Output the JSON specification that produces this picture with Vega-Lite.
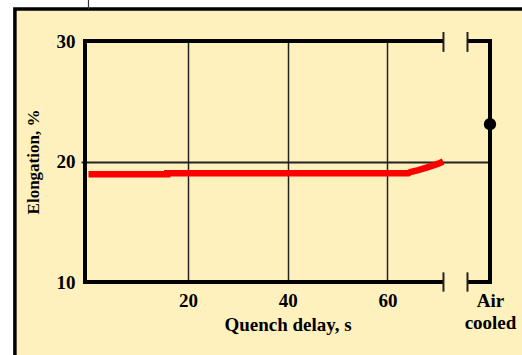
{
  "$schema": "https://vega.github.io/schema/vega-lite/v6.json",
  "width": 405,
  "height": 241,
  "autosize": "none",
  "padding": {"left": 85, "top": 41, "right": 32, "bottom": 73},
  "background": "#FFF1BE",
  "config": {"view": {"stroke": null}, "font": "Liberation Serif"},
  "datasets": {
    "quench": [
      {"delay": 0, "elong": 18.95},
      {"delay": 15.8, "elong": 18.95},
      {"delay": 15.8, "elong": 19.03},
      {"delay": 64.2, "elong": 19.03},
      {"delay": 64.6, "elong": 19.12},
      {"delay": 66.2, "elong": 19.28},
      {"delay": 68.0, "elong": 19.52},
      {"delay": 70.1, "elong": 19.8},
      {"delay": 71.2, "elong": 20.0}
    ],
    "air": [
      {"delay": 80.6, "elong": 23.1, "condition": "Air cooled"}
    ],
    "one": [{}]
  },
  "layer": [
    {
      "data": {"name": "quench"},
      "mark": {"type": "line", "color": "#FF0000", "strokeWidth": 6.5, "strokeCap": "butt"},
      "encoding": {
        "x": {
          "field": "delay", "type": "quantitative",
          "scale": {"domain": [-0.7, 80.6], "nice": false, "zero": false},
          "axis": {
            "values": [20, 40, 60, 80.6],
            "labelExpr": "datum.value > 70 ? ['Air','cooled'] : datum.label",
            "title": "Quench delay, s",
            "grid": true, "gridColor": "#222", "gridWidth": 1.5,
            "gridOpacity": {"condition": {"test": "datum.value > 70", "value": 0}, "value": 1},
            "ticks": false, "domain": false,
            "labelFont": "Liberation Serif", "labelFontWeight": "bold", "labelFontSize": 19,
            "labelColor": "black", "labelPadding": 9, "labelLineHeight": 22,
            "labelFlush": false, "labelOverlap": false,
            "titleFont": "Liberation Serif", "titleFontWeight": "bold", "titleFontSize": 19,
            "titleColor": "black", "titleY": 33, "titleBaseline": "top"
          }
        },
        "y": {
          "field": "elong", "type": "quantitative",
          "scale": {"domain": [10, 30], "nice": false, "zero": false},
          "axis": {
            "values": [10, 20, 30],
            "title": "Elongation, %",
            "grid": true, "gridColor": "#222", "gridWidth": 1.8,
            "gridOpacity": {"condition": {"test": "datum.value == 20", "value": 1}, "value": 0},
            "ticks": true, "tickSize": 4, "tickColor": "#222", "tickWidth": 1.8,
            "tickOpacity": {"condition": {"test": "datum.value == 20", "value": 1}, "value": 0},
            "domain": false,
            "labelFont": "Liberation Serif", "labelFontWeight": "bold", "labelFontSize": 19,
            "labelColor": "black", "labelPadding": 6,
            "titleFont": "Liberation Serif", "titleFontWeight": "bold", "titleFontSize": 17,
            "titleColor": "black", "titlePadding": 14
          }
        }
      }
    },
    {
      "data": {"name": "air"},
      "mark": {"type": "point", "filled": true, "color": "black", "size": 150, "opacity": 1},
      "encoding": {
        "x": {"field": "delay", "type": "quantitative"},
        "y": {"field": "elong", "type": "quantitative"}
      }
    },
    {
      "data": {"name": "one"},
      "mark": {"type": "rect", "color": "white"},
      "encoding": {
        "x": {"datum": -40, "type": "quantitative"},
        "x2": {"datum": -14.77},
        "y": {"datum": 40, "type": "quantitative"},
        "y2": {"datum": -5}
      }
    },
    {
      "data": {"name": "one"},
      "mark": {"type": "rect", "color": "white"},
      "encoding": {
        "x": {"datum": -40, "type": "quantitative"},
        "x2": {"datum": 120},
        "y": {"datum": 40, "type": "quantitative"},
        "y2": {"datum": 32.65}
      }
    },
    {
      "data": {"name": "one"},
      "mark": {"type": "rect", "fill": null, "fillOpacity": 0, "stroke": "black", "strokeWidth": 3.5},
      "encoding": {
        "x": {"datum": -14.77, "type": "quantitative"},
        "x2": {"datum": 100},
        "y": {"datum": 32.65, "type": "quantitative"},
        "y2": {"datum": 2}
      }
    },
    {
      "data": {"name": "one"},
      "mark": {"type": "rule", "color": "#333", "strokeWidth": 1.2},
      "encoding": {
        "x": {"datum": 0, "type": "quantitative"},
        "y": {"datum": 34, "type": "quantitative"},
        "y2": {"datum": 32.65}
      }
    },
    {
      "data": {"name": "one"},
      "mark": {"type": "rule", "color": "black", "strokeWidth": 4, "strokeCap": "square"},
      "encoding": {
        "x": {"datum": -0.7, "type": "quantitative"},
        "y": {"datum": 10, "type": "quantitative"},
        "y2": {"datum": 30}
      }
    },
    {
      "data": {"name": "one"},
      "mark": {"type": "rule", "color": "black", "strokeWidth": 4, "strokeCap": "square"},
      "encoding": {
        "x": {"datum": 80.6, "type": "quantitative"},
        "y": {"datum": 10, "type": "quantitative"},
        "y2": {"datum": 30}
      }
    },
    {
      "data": {"name": "one"},
      "mark": {"type": "rule", "color": "black", "strokeWidth": 4},
      "encoding": {
        "x": {"datum": -0.7, "type": "quantitative"},
        "x2": {"datum": 71.26},
        "y": {"datum": 30, "type": "quantitative"}
      }
    },
    {
      "data": {"name": "one"},
      "mark": {"type": "rule", "color": "black", "strokeWidth": 4},
      "encoding": {
        "x": {"datum": -0.7, "type": "quantitative"},
        "x2": {"datum": 71.26},
        "y": {"datum": 10, "type": "quantitative"}
      }
    },
    {
      "data": {"name": "one"},
      "mark": {"type": "rule", "color": "black", "strokeWidth": 4},
      "encoding": {
        "x": {"datum": 76.08, "type": "quantitative"},
        "x2": {"datum": 80.6},
        "y": {"datum": 30, "type": "quantitative"}
      }
    },
    {
      "data": {"name": "one"},
      "mark": {"type": "rule", "color": "black", "strokeWidth": 4},
      "encoding": {
        "x": {"datum": 76.08, "type": "quantitative"},
        "x2": {"datum": 80.6},
        "y": {"datum": 10, "type": "quantitative"}
      }
    },
    {
      "data": {"name": "one"},
      "mark": {"type": "rule", "color": "#222", "strokeWidth": 2},
      "encoding": {
        "x": {"datum": 71.26, "type": "quantitative"},
        "y": {"datum": 29.1, "type": "quantitative"},
        "y2": {"datum": 30.75}
      }
    },
    {
      "data": {"name": "one"},
      "mark": {"type": "rule", "color": "#222", "strokeWidth": 2},
      "encoding": {
        "x": {"datum": 76.08, "type": "quantitative"},
        "y": {"datum": 29.1, "type": "quantitative"},
        "y2": {"datum": 30.75}
      }
    },
    {
      "data": {"name": "one"},
      "mark": {"type": "rule", "color": "#222", "strokeWidth": 2},
      "encoding": {
        "x": {"datum": 71.26, "type": "quantitative"},
        "y": {"datum": 9.2, "type": "quantitative"},
        "y2": {"datum": 10.8}
      }
    },
    {
      "data": {"name": "one"},
      "mark": {"type": "rule", "color": "#222", "strokeWidth": 2},
      "encoding": {
        "x": {"datum": 76.08, "type": "quantitative"},
        "y": {"datum": 9.2, "type": "quantitative"},
        "y2": {"datum": 10.8}
      }
    }
  ]
}
